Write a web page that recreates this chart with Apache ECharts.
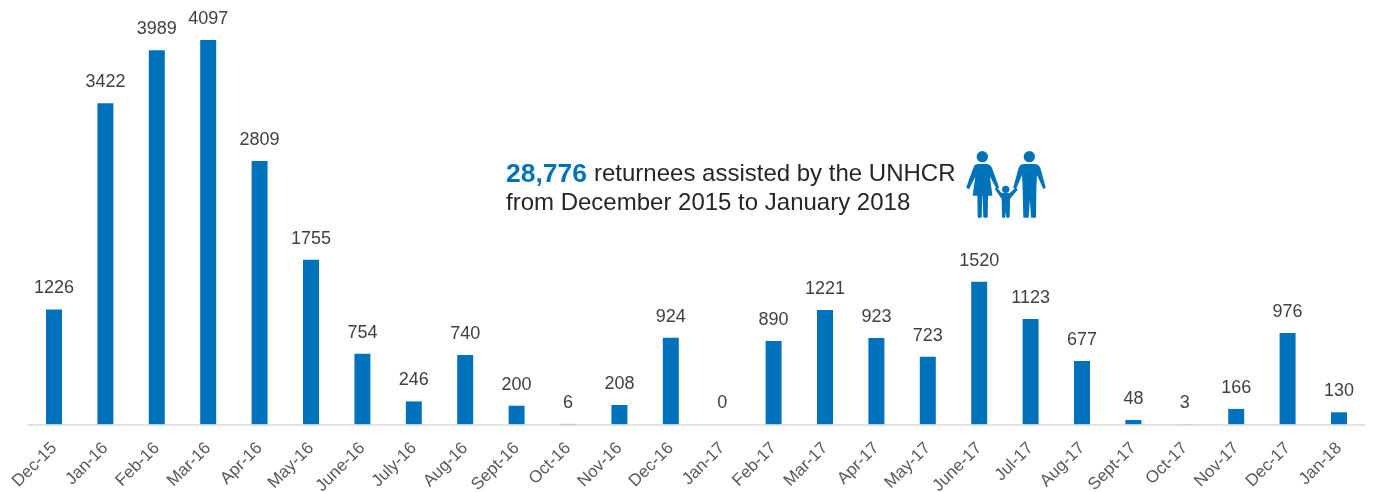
<!DOCTYPE html>
<html><head><meta charset="utf-8">
<style>html,body{margin:0;padding:0;background:#fff}#c{width:1373px;height:492px}</style>
<script src="https://cdn.jsdelivr.net/npm/echarts@6/dist/echarts.min.js"></script>
</head><body><div id="c"></div>
<script>
const categories = ["Dec-15","Jan-16","Feb-16","Mar-16","Apr-16","May-16","June-16","July-16","Aug-16","Sept-16","Oct-16","Nov-16","Dec-16","Jan-17","Feb-17","Mar-17","Apr-17","May-17","June-17","Jul-17","Aug-17","Sept-17","Oct-17","Nov-17","Dec-17","Jan-18"];
const returnees = [1226,3422,3989,4097,2809,1755,754,246,740,200,6,208,924,0,890,1221,923,723,1520,1123,677,48,3,166,976,130];
const BLUE = "#0072bc";
const chart = echarts.init(document.getElementById("c"), null, {renderer:"canvas"});
const font = '"Liberation Sans", Arial, sans-serif';
const woman = [[84,74],[110,74],[118,76],[124,84],[145,142],[141,145],[116,98],[125,165],[112,165],[111,231],[102,231],[100,165],[95,165],[93,231],[85,231],[84,165],[70,165],[80,98],[56,145],[51,142],[72,84],[76,76]];
const man = [[222,74],[254,74],[263,76],[269,84],[285,142],[281,145],[259,96],[257,150],[256,231],[245,231],[240,150],[234,231],[222,231],[220,150],[218,96],[197,145],[192,142],[208,84],[213,76]];
const child = [[137,147],[141,146],[154,161],[180,161],[196,146],[201,149],[178,176],[177,231],[171,231],[168,192],[164,231],[158,231],[157,176]];
const iconStroke = {fill:BLUE,stroke:BLUE,lineWidth:4,lineJoin:"round"};
chart.setOption({
  animation:false,
  grid:{left:28.3,right:8.3,top:2.2,bottom:67.5,outerBoundsMode:"none"},
  xAxis:{type:"category",data:categories,z:5,
    axisTick:{show:false},
    axisLine:{lineStyle:{color:"#d9d9d9",width:1.5}},
    axisLabel:{interval:0,rotate:45,fontFamily:font,fontSize:17,color:"#595959",margin:21}},
  yAxis:{type:"value",min:0,max:4500,show:false,splitLine:{show:false}},
  series:[{type:"bar",data:returnees,barWidth:16,
    itemStyle:{color:BLUE},
    label:{show:true,position:"top",distance:12,fontFamily:font,fontSize:18,color:"#404040"}}],
  graphic:[
    {type:"text",left:506,top:161,style:{
      rich:{b:{fontFamily:font,fontSize:26.5,fontWeight:"bold",fill:BLUE,lineHeight:29},
            s:{fontFamily:font,fontSize:13,lineHeight:29},
            t:{fontFamily:font,fontSize:24,fill:"#262626",lineHeight:29}},
      text:"{b|28,776} {s| }{t|returnees assisted by the UNHCR}\n{t|from December 2015 to January 2018}"}},
    {type:"group",x:950,y:140,scaleX:1/3,scaleY:1/3,children:[
      {type:"circle",shape:{cx:97,cy:50,r:17},style:{fill:BLUE}},
      {type:"circle",shape:{cx:238,cy:50,r:17},style:{fill:BLUE}},
      {type:"circle",shape:{cx:167,cy:148,r:11},style:{fill:BLUE}},
      {type:"polygon",shape:{points:woman},style:iconStroke},
      {type:"polygon",shape:{points:man},style:iconStroke},
      {type:"polygon",shape:{points:child},style:iconStroke}
    ]}
  ]
});
</script></body></html>
